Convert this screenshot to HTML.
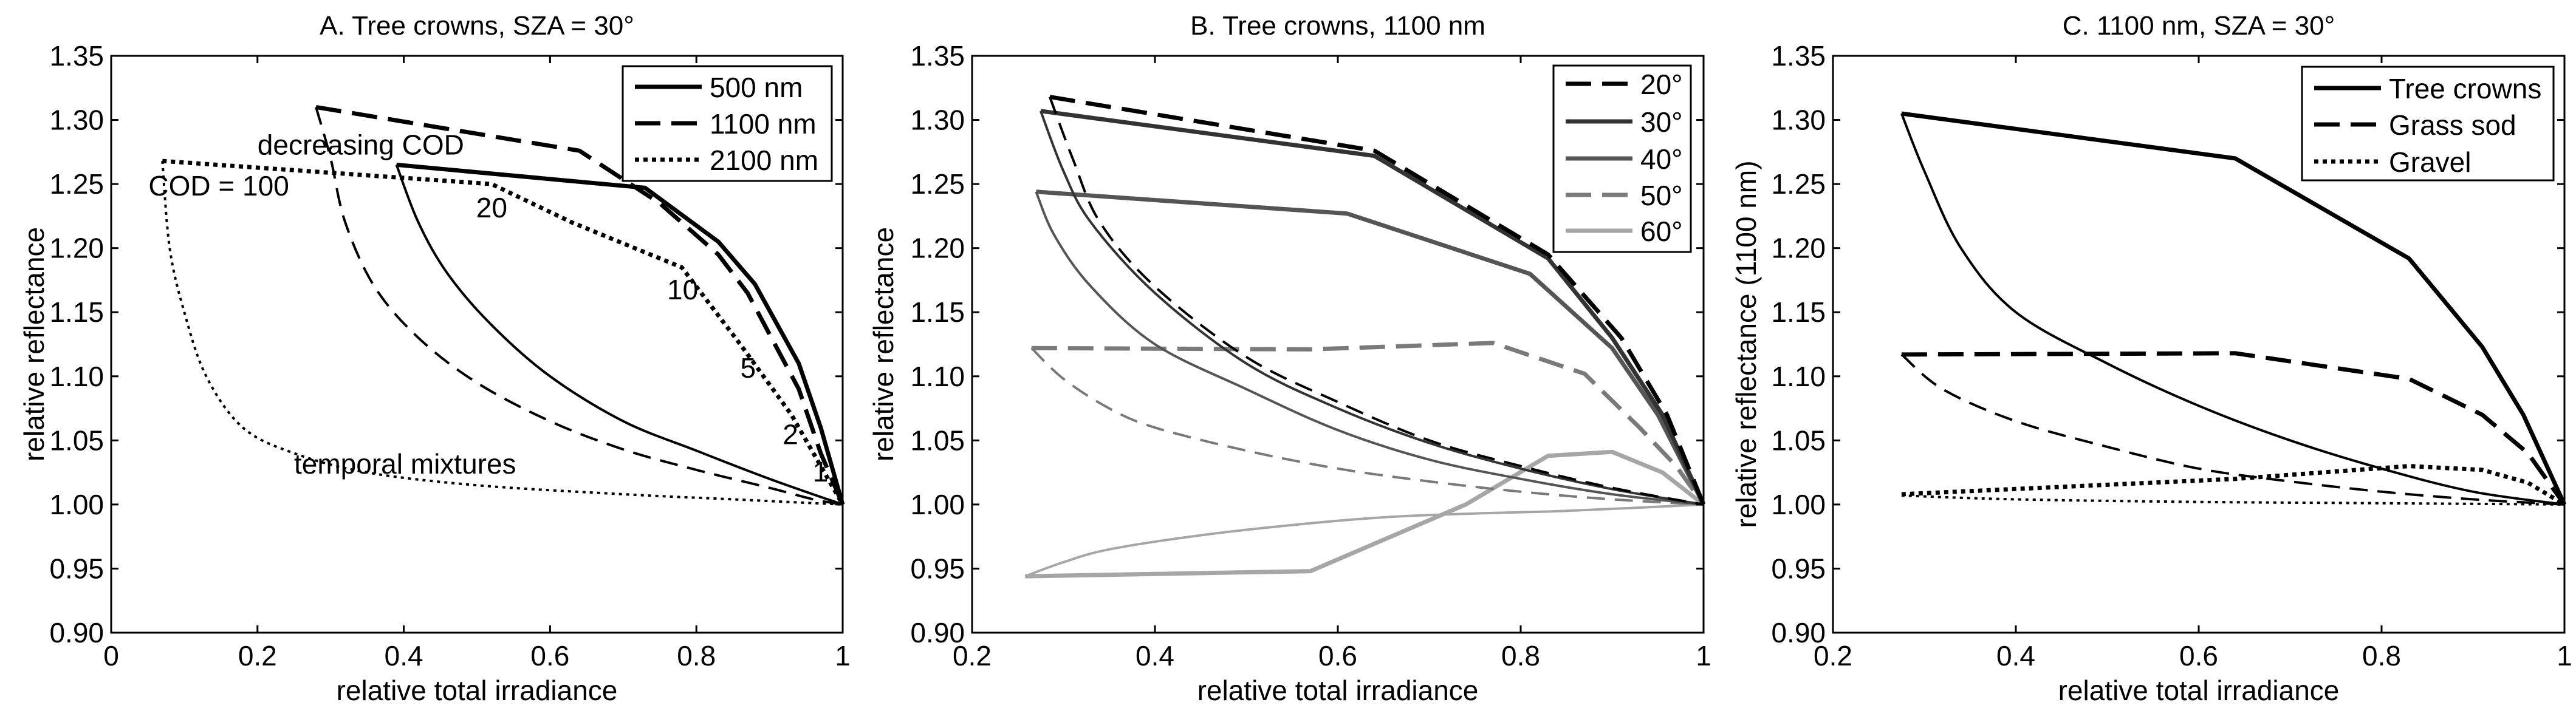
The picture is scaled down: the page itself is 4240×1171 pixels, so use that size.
<!DOCTYPE html>
<html><head><meta charset="utf-8"><style>
html,body{margin:0;padding:0;background:#fff;}
svg{display:block;font-family:"Liberation Sans",Arial,sans-serif;}
</style></head><body>
<svg id="fig" width="4240" height="1171" viewBox="0 0 4240 1171" xmlns="http://www.w3.org/2000/svg"></svg>
<script>
// ---- shared ticks ----
const yTicks = [0.90,0.95,1.00,1.05,1.10,1.15,1.20,1.25,1.30,1.35];
const yTickLabels = ["0.90","0.95","1.00","1.05","1.10","1.15","1.20","1.25","1.30","1.35"];
const xTicksA = [0,0.2,0.4,0.6,0.8,1];
const xTickLabelsA = ["0","0.2","0.4","0.6","0.8","1"];
const xTicksBC = [0.2,0.4,0.6,0.8,1];
const xTickLabelsBC = ["0.2","0.4","0.6","0.8","1"];

// ---- Panel A data ----
const a500UpX = [0.39,0.73,0.83,0.88,0.94,0.97,1.0];
const a500UpY = [1.265,1.247,1.205,1.172,1.11,1.06,1.0];
const a500LoX = [0.39,0.42,0.46,0.52,0.6,0.7,0.8,0.9,1.0];
const a500LoY = [1.265,1.22,1.18,1.14,1.10,1.065,1.042,1.02,1.0];
const a1100UpX = [0.28,0.64,0.75,0.83,0.87,0.94,0.97,1.0];
const a1100UpY = [1.31,1.276,1.235,1.195,1.165,1.09,1.04,1.0];
const a1100LoX = [0.28,0.30,0.32,0.36,0.42,0.5,0.6,0.7,0.8,0.9,0.96,1.0];
const a1100LoY = [1.31,1.27,1.22,1.17,1.13,1.095,1.065,1.043,1.027,1.013,1.004,1.0];
const a2100UpX = [0.07,0.52,0.63,0.78,0.86,0.93,0.97,1.0];
const a2100UpY = [1.268,1.25,1.22,1.185,1.125,1.07,1.03,1.0];
const a2100LoX = [0.07,0.08,0.10,0.13,0.18,0.25,0.35,0.5,0.7,0.85,1.0];
const a2100LoY = [1.268,1.2,1.15,1.10,1.06,1.04,1.025,1.015,1.008,1.004,1.0];
const aNotes = ["decreasing COD","COD = 100","20","10","5","2","1","temporal mixtures"];
const aNoteX = [0.20,0.051,0.499,0.76,0.86,0.918,0.959,0.25];
const aNoteY = [1.273,1.241,1.224,1.160,1.099,1.047,1.018,1.024];

// ---- Panel B data ----
const b20UpX = [0.285,0.64,0.83,0.91,0.96,1.0];
const b20UpY = [1.318,1.276,1.195,1.13,1.07,1.0];
const b20LoX = [0.285,0.31,0.34,0.4,0.5,0.6,0.7,0.8,0.9,1.0];
const b20LoY = [1.318,1.27,1.22,1.17,1.115,1.08,1.05,1.03,1.013,1.0];
const b30UpX = [0.275,0.64,0.83,0.9,0.955,1.0];
const b30UpY = [1.307,1.272,1.192,1.13,1.07,1.0];
const b30LoX = [0.275,0.3,0.33,0.4,0.5,0.6,0.7,0.8,0.9,1.0];
const b30LoY = [1.307,1.26,1.22,1.165,1.11,1.075,1.048,1.028,1.012,1.0];
const b40UpX = [0.27,0.61,0.81,0.9,0.95,1.0];
const b40UpY = [1.244,1.227,1.18,1.122,1.07,1.0];
const b40LoX = [0.27,0.29,0.33,0.4,0.5,0.6,0.7,0.8,0.9,1.0];
const b40LoY = [1.244,1.21,1.17,1.125,1.09,1.058,1.035,1.02,1.008,1.0];
const b50UpX = [0.265,0.57,0.77,0.87,0.93,0.97,1.0];
const b50UpY = [1.122,1.121,1.126,1.102,1.06,1.03,1.0];
const b50LoX = [0.265,0.3,0.35,0.4,0.5,0.6,0.7,0.8,0.9,1.0];
const b50LoY = [1.122,1.098,1.075,1.06,1.042,1.028,1.018,1.01,1.004,1.0];
const b60UpX = [0.258,0.57,0.74,0.83,0.9,0.955,1.0];
const b60UpY = [0.944,0.948,1.0,1.038,1.041,1.025,1.0];
const b60LoX = [0.258,0.3,0.35,0.45,0.55,0.65,0.75,0.85,1.0];
const b60LoY = [0.944,0.955,0.965,0.976,0.984,0.99,0.993,0.995,1.0];

// ---- Panel C data ----
const cTreeUpX = [0.275,0.64,0.83,0.91,0.955,1.0];
const cTreeUpY = [1.305,1.27,1.192,1.123,1.07,1.0];
const cTreeLoX = [0.275,0.3,0.34,0.4,0.5,0.6,0.7,0.8,0.9,1.0];
const cTreeLoY = [1.305,1.26,1.2,1.15,1.11,1.077,1.05,1.028,1.01,1.0];
const cGrassUpX = [0.275,0.64,0.83,0.91,0.96,1.0];
const cGrassUpY = [1.117,1.118,1.098,1.07,1.04,1.0];
const cGrassLoX = [0.275,0.32,0.4,0.5,0.6,0.7,0.8,0.9,1.0];
const cGrassLoY = [1.117,1.09,1.065,1.045,1.028,1.018,1.01,1.004,1.0];
const cGravelUpX = [0.275,0.64,0.83,0.91,0.96,1.0];
const cGravelUpY = [1.008,1.02,1.03,1.027,1.017,1.0];
const cGravelLoX = [0.275,0.4,0.6,0.8,1.0];
const cGravelLoY = [1.007,1.004,1.002,1.001,1.0];

const NS = "http://www.w3.org/2000/svg";
const svg = document.getElementById('fig');
function el(tag, attrs, parent){
  const e = document.createElementNS(NS, tag);
  for (const k in attrs) e.setAttribute(k, attrs[k]);
  (parent||svg).appendChild(e);
  return e;
}
function smoothPath(P){
  let d = `M${P[0][0].toFixed(1)},${P[0][1].toFixed(1)}`;
  for (let i=0;i<P.length-1;i++){
    const p0 = P[i-1]||P[i], p1=P[i], p2=P[i+1], p3=P[i+2]||P[i+1];
    const c1x = p1[0]+(p2[0]-p0[0])/6, c1y = p1[1]+(p2[1]-p0[1])/6;
    const c2x = p2[0]-(p3[0]-p1[0])/6, c2y = p2[1]-(p3[1]-p1[1])/6;
    d += ` C${c1x.toFixed(1)},${c1y.toFixed(1)} ${c2x.toFixed(1)},${c2y.toFixed(1)} ${p2[0].toFixed(1)},${p2[1].toFixed(1)}`;
  }
  return d;
}
const TOP = 92, BOT = 1042, W = 1204;
const DASH = "42 18", DOT = "7 7", DASHTHIN = "30 16", DOTTHIN = "5 7";

function makePanel(opt){
  const g = el('g', {});
  
  
  const L = opt.left, R = L + W;
  const sx = v => L + (v - opt.xmin) / (opt.xmax - opt.xmin) * W;
  const sy = v => BOT - (v - 0.90) / 0.45 * (BOT - TOP);
  const t = el('text', {x: L + W/2, y: 57, 'text-anchor':'middle', 'font-size': 44}, g);
  t.textContent = opt.title;
  
  
  opt.series.forEach(s => {
    const P = s.x.map((v,i) => [sx(v), sy(s.y[i])]);
    let p;
    if (s.smooth) {
      p = el('path', {d: smoothPath(P), fill:'none', stroke: s.color, 'stroke-width': s.w}, g);
    } else {
      const pts = P.map(q => q[0].toFixed(1)+','+q[1].toFixed(1)).join(' ');
      p = el('polyline', {points: pts, fill:'none', stroke: s.color, 'stroke-width': s.w, 'stroke-linejoin':'round'}, g);
    }
    if (s.dash) p.setAttribute('stroke-dasharray', s.dash);
    
    
  });
  const box = el('rect', {x:L, y:TOP, width:W, height:BOT-TOP, fill:'none', stroke:'#000', 'stroke-width':3}, g);
  
  
  yTicks.forEach((v,i) => {
    const y = sy(v);
    el('line', {x1:L, x2:L+12, y1:y, y2:y, stroke:'#000', 'stroke-width':3}, g);
    el('line', {x1:R, x2:R-12, y1:y, y2:y, stroke:'#000', 'stroke-width':3}, g);
    const tl = el('text', {x:L-12, y:y+16, 'text-anchor':'end', 'font-size':46}, g);
    tl.textContent = yTickLabels[i];
    
    
  });
  opt.xt.forEach((v,i) => {
    const x = sx(v);
    el('line', {x1:x, x2:x, y1:BOT, y2:BOT-12, stroke:'#000', 'stroke-width':3}, g);
    el('line', {x1:x, x2:x, y1:TOP, y2:TOP+12, stroke:'#000', 'stroke-width':3}, g);
    const tl = el('text', {x:x, y:1096, 'text-anchor':'middle', 'font-size':46}, g);
    tl.textContent = opt.xtl[i];
    
    
  });
  const xl = el('text', {x:L+W/2, y:1153, 'text-anchor':'middle', 'font-size':46}, g);
  xl.textContent = 'relative total irradiance';
  
  
  const yl = el('text', {x:0, y:0, 'text-anchor':'middle', 'font-size':46, transform:`translate(${opt.ylx},${(TOP+BOT)/2}) rotate(-90)`}, g);
  yl.textContent = opt.ylabel;
  
  
  (opt.notes||[]).forEach((n,i) => {
    const a = el('text', {x:sx(opt.noteX[i]), y:sy(opt.noteY[i]), 'font-size':46}, g);
    a.textContent = n;
    
    
  });
  const lg = el('g', {}, g);
  
  
  const lb = opt.legend;
  el('rect', {x:lb.x, y:lb.y, width:lb.w, height:lb.h, fill:'#fff', stroke:'#000', 'stroke-width':3}, lg);
  lb.items.forEach((it,i) => {
    const y = lb.rows[i];
    const ln = el('line', {x1:lb.lx, x2:lb.lx+110, y1:y, y2:y, stroke:it.color, 'stroke-width':7}, lg);
    if (it.dash) ln.setAttribute('stroke-dasharray', it.dash);
    const tx = el('text', {x:lb.lx+123, y:y+17, 'font-size':46}, lg);
    tx.textContent = it.label;
    
    
  });
}

makePanel({
  name:'panel-a', left:183, xmin:0, xmax:1, xt:xTicksA, xtl:xTickLabelsA,
  title:'A. Tree crowns, SZA = 30°', ylabel:'relative reflectance', ylx:72,
  series:[
    {name:'line-500nm-cod', x:a500UpX, y:a500UpY, color:'#000', w:7},
    {name:'line-500nm-temporal', x:a500LoX, y:a500LoY, color:'#000', w:4, smooth:true},
    {name:'line-1100nm-cod', x:a1100UpX, y:a1100UpY, color:'#000', w:7, dash:DASH},
    {name:'line-1100nm-temporal', x:a1100LoX, y:a1100LoY, color:'#000', w:4, dash:DASHTHIN, smooth:true},
    {name:'line-2100nm-cod', x:a2100UpX, y:a2100UpY, color:'#000', w:7, dash:DOT},
    {name:'line-2100nm-temporal', x:a2100LoX, y:a2100LoY, color:'#000', w:4, dash:DOTTHIN, smooth:true},
  ],
  notes:aNotes, noteX:aNoteX, noteY:aNoteY,
  legend:{x:1025,y:109,w:344,h:189,lx:1045,rows:[143,203,263],items:[
    {label:'500 nm',color:'#000'},{label:'1100 nm',color:'#000',dash:DASH},{label:'2100 nm',color:'#000',dash:DOT}]}
});

makePanel({
  name:'panel-b', left:1600, xmin:0.2, xmax:1, xt:xTicksBC, xtl:xTickLabelsBC,
  title:'B. Tree crowns, 1100 nm', ylabel:'relative reflectance', ylx:1470,
  series:[
    {name:'line-60deg-temporal', x:b60LoX, y:b60LoY, color:'#a6a6a6', w:4, smooth:true},
    {name:'line-60deg-cod', x:b60UpX, y:b60UpY, color:'#a6a6a6', w:7},
    {name:'line-50deg-temporal', x:b50LoX, y:b50LoY, color:'#7a7a7a', w:4, dash:DASHTHIN, smooth:true},
    {name:'line-50deg-cod', x:b50UpX, y:b50UpY, color:'#7a7a7a', w:7, dash:DASH},
    {name:'line-40deg-temporal', x:b40LoX, y:b40LoY, color:'#555', w:4, smooth:true},
    {name:'line-40deg-cod', x:b40UpX, y:b40UpY, color:'#555', w:7},
    {name:'line-30deg-temporal', x:b30LoX, y:b30LoY, color:'#333', w:4, smooth:true},
    {name:'line-30deg-cod', x:b30UpX, y:b30UpY, color:'#333', w:7},
    {name:'line-20deg-temporal', x:b20LoX, y:b20LoY, color:'#000', w:4, dash:DASHTHIN, smooth:true},
    {name:'line-20deg-cod', x:b20UpX, y:b20UpY, color:'#000', w:7, dash:DASH},
  ],
  legend:{x:2557,y:108,w:226,h:307,lx:2577,rows:[138,200,261,321,380],items:[
    {label:'20°',color:'#000',dash:DASH},{label:'30°',color:'#333'},{label:'40°',color:'#555'},
    {label:'50°',color:'#7a7a7a',dash:DASH},{label:'60°',color:'#a6a6a6'}]}
});

makePanel({
  name:'panel-c', left:3017, xmin:0.2, xmax:1, xt:xTicksBC, xtl:xTickLabelsBC,
  title:'C. 1100 nm, SZA = 30°', ylabel:'relative reflectance (1100 nm)', ylx:2890,
  series:[
    {name:'line-tree-cod', x:cTreeUpX, y:cTreeUpY, color:'#000', w:7},
    {name:'line-tree-temporal', x:cTreeLoX, y:cTreeLoY, color:'#000', w:4, smooth:true},
    {name:'line-grass-cod', x:cGrassUpX, y:cGrassUpY, color:'#000', w:7, dash:DASH},
    {name:'line-grass-temporal', x:cGrassLoX, y:cGrassLoY, color:'#000', w:4, dash:DASHTHIN, smooth:true},
    {name:'line-gravel-cod', x:cGravelUpX, y:cGravelUpY, color:'#000', w:7, dash:DOT},
    {name:'line-gravel-temporal', x:cGravelLoX, y:cGravelLoY, color:'#000', w:4, dash:DOTTHIN, smooth:true},
  ],
  legend:{x:3789,y:110,w:414,h:187,lx:3809,rows:[145,205,266],items:[
    {label:'Tree crowns',color:'#000'},{label:'Grass sod',color:'#000',dash:DASH},{label:'Gravel',color:'#000',dash:DOT}]}
});
</script>
</body></html>
